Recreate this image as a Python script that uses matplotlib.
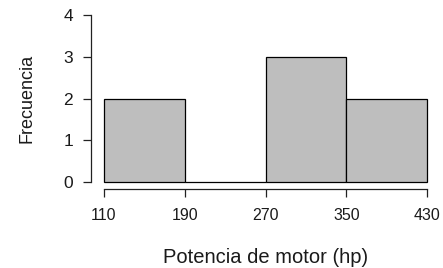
import matplotlib
matplotlib.use("Agg")
import matplotlib.pyplot as plt
import numpy as np

# bin edges and counts of the histogram
bin_edges = [110, 190, 270, 350, 430]
counts = [2, 0, 3, 2]
y_ticks = [0, 1, 2, 3, 4]

plt.rcParams["font.family"] = ["Liberation Sans", "DejaVu Sans"]

fig = plt.figure(figsize=(4.43, 2.68), dpi=100)
ax = fig.add_axes([91 / 443, 79 / 268, 349 / 443, 180.7 / 268])

lefts = np.array(bin_edges[:-1])
widths = np.diff(bin_edges)
ax.bar(lefts, counts, width=widths, align="edge", color="#bebebe",
       edgecolor="black", linewidth=0.9)

ax.set_xlim(97.2, 442.8)
ax.set_ylim(-0.16, 4.16)

for s in ["top", "right"]:
    ax.spines[s].set_visible(False)
ax.spines["left"].set_bounds(0, 4)
ax.spines["bottom"].set_bounds(110, 430)
for s in ["left", "bottom"]:
    ax.spines[s].set_linewidth(0.9)
    ax.spines[s].set_color("#222222")

ax.set_xticks(bin_edges)
ax.set_yticks(y_ticks)
ax.tick_params(axis="both", direction="out", length=6, width=0.9,
               color="#222222", labelcolor="#1a1a1a")
ax.tick_params(axis="x", labelsize=11.5, pad=8)
ax.tick_params(axis="y", labelsize=12.5, pad=7)

ax.set_xlabel("Potencia de motor (hp)", fontsize=14.5, labelpad=18, color="#1a1a1a")
ax.set_ylabel("Frecuencia", fontsize=13, labelpad=20, color="#1a1a1a")

fig.savefig("out.png", dpi=100)
